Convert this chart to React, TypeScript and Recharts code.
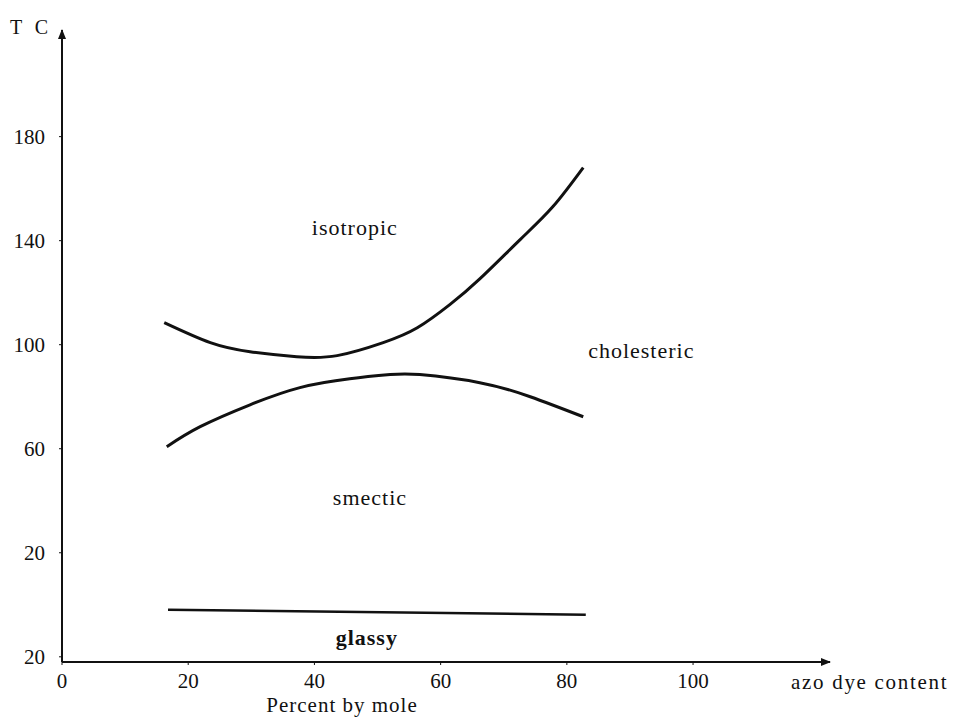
import React from 'react';
import {
  LineChart, Line, XAxis, YAxis, ReferenceDot, Label,
} from 'recharts';

// boundary curves (x = mol % azo dye, y = T in C)
const UPPER_X = [16.2, 23.5, 29.8, 37.2, 43.6, 50.9, 56.3, 61.5, 66.2, 72.6, 77.8, 82.6];
const UPPER_Y = [108.5, 100.8, 97.3, 95.4, 95.8, 100.8, 106.5, 115.5, 125.3, 140.4, 153.1, 168.1];

const LOWER_X = [16.6, 21.9, 29.8, 37.7, 45.6, 52.0, 56.7, 66.2, 74.2, 82.6];
const LOWER_Y = [60.8, 68.5, 76.9, 83.5, 86.9, 88.5, 88.5, 85.4, 80.0, 72.3];

const GLASSY_X = [16.8, 83.0];
const GLASSY_Y = [-1.9, -3.8];

const X_TICKS = [0, 20, 40, 60, 80, 100];
const Y_TICKS = [-20, 20, 60, 100, 140, 180];
const Y_TICK_LABELS = ['20', '20', '60', '100', '140', '180'];

const REGION_NAMES = ['isotropic', 'cholesteric', 'smectic', 'glassy'];
const REGION_X = [46.4, 91.8, 48.8, 48.3];
const REGION_Y = [145, 97.7, 41.5, -12.3];

const toPoints = (xs: number[], ys: number[]) => xs.map((x, i) => ({ x, y: ys[i] }));

const FONT = '"Liberation Serif", "Times New Roman", serif';
const INK = '#111';

export default function App() {
  const upper = toPoints(UPPER_X, UPPER_Y);
  const lower = toPoints(LOWER_X, LOWER_Y);
  const glassy = toPoints(GLASSY_X, GLASSY_Y);

  return (
    <div style={{ width: 954, height: 715, background: '#fff' }}>
      <LineChart
        width={954}
        height={715}
        margin={{ top: 22, right: 132, bottom: 31, left: 0 }}
        style={{ fontFamily: FONT, overflow: 'visible' }}
      >
        <defs>
          <marker id="arrow" viewBox="0 0 10 10" refX="9" refY="5" markerWidth="5" markerHeight="5" orient="auto-start-reverse">
            <path d="M0,1 L10,5 L0,9 z" fill={INK} />
          </marker>
        </defs>
        <XAxis
          type="number"
          dataKey="x"
          domain={[0, 121.7]}
          ticks={X_TICKS}
          allowDataOverflow
          height={30}
          tickSize={3}
          tickMargin={8}
          tick={{ fill: INK, fontSize: 21, fontFamily: FONT }}
          tickLine={{ stroke: INK }}
          axisLine={{ stroke: INK, strokeWidth: 2, markerEnd: 'url(#arrow)' }}
        >
          <Label value="azo dye content" position="right" dx={-44} dy={5}
            style={{ fill: INK, fontSize: 21, fontFamily: FONT, letterSpacing: 1.7 }} />
          <Label value="Percent by mole" position="bottom" dx={-104} dy={0}
            style={{ fill: INK, fontSize: 21, fontFamily: FONT, letterSpacing: 1 }} />
        </XAxis>
        <YAxis
          type="number"
          dataKey="y"
          domain={[-22, 221]}
          ticks={Y_TICKS}
          allowDataOverflow
          width={54}
          tickSize={3}
          tickMargin={14}
          tickFormatter={(v: number) => Y_TICK_LABELS[Y_TICKS.indexOf(v)] ?? String(v)}
          tick={{ fill: INK, fontSize: 21, fontFamily: FONT }}
          tickLine={{ stroke: INK }}
          axisLine={{ stroke: INK, strokeWidth: 2, markerStart: 'url(#arrow)' }}
        >
          <Label value="T C" position="top" dx={-4} dy={9}
            style={{ fill: INK, fontSize: 20, fontFamily: FONT, letterSpacing: 4 }} />
        </YAxis>

        <Line data={upper} dataKey="y" type="natural" stroke={INK} strokeWidth={3} dot={false} isAnimationActive={false} />
        <Line data={lower} dataKey="y" type="natural" stroke={INK} strokeWidth={3} dot={false} isAnimationActive={false} />
        <Line data={glassy} dataKey="y" type="linear" stroke={INK} strokeWidth={2.5} dot={false} isAnimationActive={false} />

        {REGION_NAMES.map((name, i) => (
          <ReferenceDot
            key={name}
            x={REGION_X[i]}
            y={REGION_Y[i]}
            r={0}
            stroke="none"
            fill="none"
            ifOverflow="visible"
            label={{
              value: name,
              position: 'center',
              fill: INK,
              fontSize: 22,
              fontFamily: FONT,
              fontWeight: name === 'glassy' ? 'bold' : 'normal',
              letterSpacing: 1,
            }}
          />
        ))}
      </LineChart>
    </div>
  );
}
